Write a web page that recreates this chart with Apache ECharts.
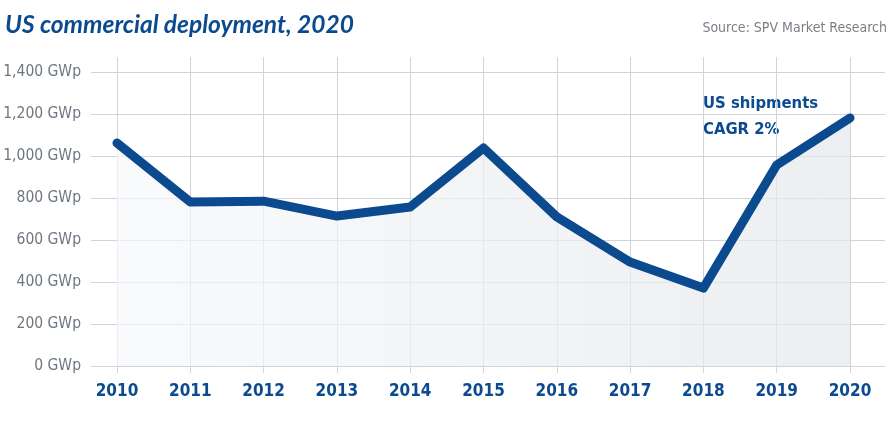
<!DOCTYPE html>
<html>
<head>
<meta charset="utf-8">
<script src="https://cdn.jsdelivr.net/npm/echarts@6/dist/echarts.min.js"></script>
<style>
  html, body { margin: 0; padding: 0; background: #fff; }
  #main { width: 893px; height: 434px; }
</style>
</head>
<body>
<div id="main"></div>
<script>
// chart data
const years = ['2010', '2011', '2012', '2013', '2014', '2015', '2016', '2017', '2018', '2019', '2020'];
const shipments = [1062, 781, 785, 714, 757, 1038, 710, 495, 371, 957, 1181];
const yTicks = [0, 200, 400, 600, 800, 1000, 1200, 1400];

const narrow = '"DejaVu Sans Condensed", sans-serif';
const blue = '#0b4a8e';

const chart = echarts.init(document.getElementById('main'));

const option = {
  backgroundColor: '#fff',
  animation: false,
  title: [
    {
      text: 'US commercial deployment, 2020',
      left: 0,
      top: 8,
      textStyle: { color: blue, fontFamily: 'Lato', fontStyle: 'italic', fontWeight: 'bold', fontSize: 24.5 }
    },
    {
      text: 'Source: SPV Market Research',
      right: 1,
      top: 16,
      textStyle: { color: '#7a7f86', fontFamily: narrow, fontWeight: 'normal', fontSize: 14 }
    }
  ],
  graphic: [
    {
      type: 'text',
      left: 703,
      top: 91,
      style: {
        text: 'US shipments\nCAGR 2%',
        fill: blue,
        font: 'bold 16.5px ' + narrow,
        lineHeight: 26
      }
    }
  ],
  grid: [
    // wide grid: horizontal lines + y labels
    { left: 91, right: 8, top: 72, bottom: 68 },
    // data grid: years sit between the line ends
    { left: 117, right: 43, top: 57, bottom: 61 }
  ],
  xAxis: [
    { gridIndex: 0, type: 'value', show: false, min: 0, max: 1 },
    {
      gridIndex: 1,
      type: 'category',
      data: years,
      boundaryGap: false,
      axisLine: { show: false },
      axisTick: { show: false },
      axisLabel: { color: blue, fontFamily: narrow, fontWeight: 'bold', fontSize: 17, margin: 10 },
      splitLine: { show: true, lineStyle: { color: '#cfd3da', width: 1 } }
    }
  ],
  yAxis: [
    {
      gridIndex: 0,
      type: 'value',
      min: yTicks[0],
      max: yTicks[yTicks.length - 1],
      interval: 200,
      axisLine: { show: false },
      axisTick: { show: false },
      axisLabel: {
        color: '#6e7680',
        fontFamily: narrow,
        fontSize: 15.5,
        margin: 10,
        formatter: v => v.toLocaleString('en-US') + ' GWp'
      },
      splitLine: { lineStyle: { color: '#cfd3da', width: 1 } }
    },
    {
      gridIndex: 1,
      type: 'value',
      min: -33.3,
      max: 1471.4,
      show: false,
      splitLine: { show: false }
    }
  ],
  series: [
    {
      name: 'US shipments',
      type: 'line',
      xAxisIndex: 1,
      yAxisIndex: 1,
      data: shipments,
      symbol: 'none',
      lineStyle: { color: blue, width: 9, cap: 'round', join: 'round' },
      areaStyle: {
        color: new echarts.graphic.LinearGradient(0, 0, 1, 0, [
          { offset: 0, color: '#f7f8fa' },
          { offset: 1, color: '#e4e7eb' }
        ])
      }
    }
  ]
};

chart.setOption(option);
</script>
</body>
</html>
